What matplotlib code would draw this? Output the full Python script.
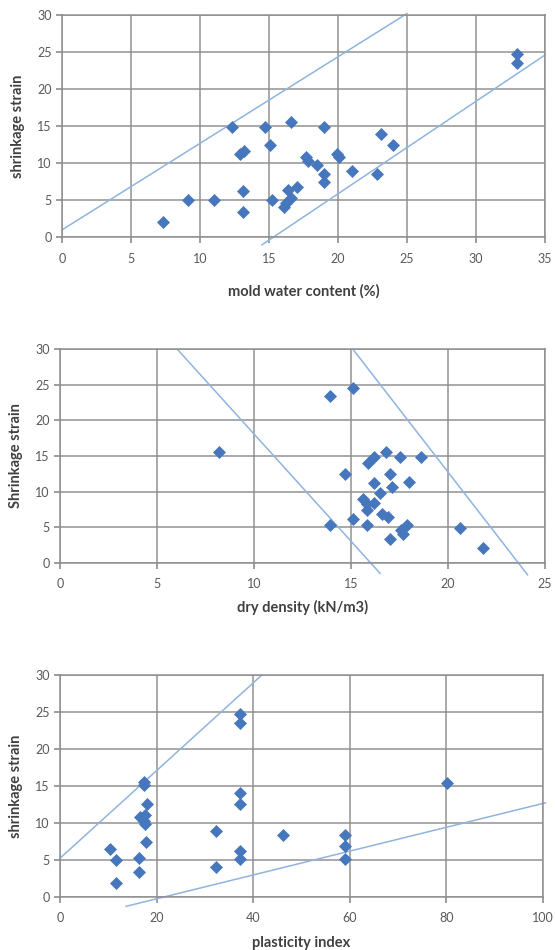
import matplotlib
matplotlib.use("Agg")
import matplotlib.pyplot as plt

plt.rcParams["font.family"] = ["Lato", "DejaVu Sans"]

# --- panel 1: mold water content ---
water = [7.3, 9.1, 11.0, 13.1, 13.1, 12.3, 12.9, 13.2, 14.7, 15.1, 15.2, 16.6,
         16.1, 16.2, 16.6, 16.4, 17.0, 17.7, 17.8, 18.5, 19.0, 19.0, 19.0, 19.9,
         20.1, 21.0, 22.8, 23.1, 24.0, 33.0, 33.0]
strain1 = [2.0, 5.0, 5.1, 6.2, 3.4, 14.9, 11.2, 11.6, 14.9, 12.5, 5.1, 15.5,
           4.1, 4.6, 5.3, 6.4, 6.8, 10.9, 10.3, 9.8, 14.9, 8.5, 7.4, 11.2,
           10.9, 8.9, 8.5, 13.9, 12.5, 24.7, 23.5]
bound1_up = ([0, 25], [1.0, 30.2])
bound1_lo = ([14.5, 35], [-1.0, 24.6])

# --- panel 2: dry density ---
density = [13.9, 15.1, 8.2, 13.9, 14.7, 15.1, 15.8, 15.9, 16.2, 16.8, 17.5, 18.6,
           17.0, 16.2, 17.1, 18.0, 16.5, 15.6, 15.8, 16.2, 15.8, 16.6, 16.9, 17.9,
           17.6, 17.7, 17.0, 20.6, 21.8]
strain2 = [23.4, 24.5, 15.5, 5.3, 12.4, 6.1, 5.3, 14.0, 14.8, 15.5, 14.9, 14.9,
           12.5, 11.2, 10.7, 11.3, 9.8, 8.9, 8.3, 8.4, 7.4, 6.8, 6.4, 5.3,
           4.6, 4.1, 3.4, 4.9, 2.1]
bound2_a = ([6.05, 16.5], [30, -1.5])
bound2_b = ([15.1, 24.1], [30, -1.7])

# --- panel 3: plasticity index ---
pi = [10.4, 11.6, 11.6, 16.4, 16.4, 17.3, 17.3, 18.0, 16.6, 17.6, 17.3, 17.6,
      17.8, 37.3, 37.3, 37.3, 37.3, 32.3, 32.3, 37.3, 37.3, 46.1, 59.0, 59.0,
      59.0, 80.2]
strain3 = [6.5, 5.0, 1.8, 5.3, 3.3, 15.5, 15.1, 12.6, 10.8, 11.0, 10.3, 9.8,
           7.4, 24.7, 23.5, 14.1, 12.5, 8.9, 4.0, 6.2, 5.1, 8.4, 8.4, 6.8,
           5.1, 15.4]
bound3_up = ([0, 41.8], [5.2, 30])
bound3_lo = ([13.7, 100.5], [-1.3, 12.7])

W, H = 555, 950
fig = plt.figure(figsize=(W / 100, H / 100), dpi=100)

panels = [
    dict(box=(62, 15, 545, 237.3), x=water, y=strain1, lines=[bound1_up, bound1_lo],
         xmax=35, xstep=5, xlabel="mold water content (%)", ylabel="shrinkage strain",
         xpad=14),
    dict(box=(60, 349.3, 545, 562.7), x=density, y=strain2, lines=[bound2_a, bound2_b],
         xmax=25, xstep=5, xlabel="dry density (kN/m3)", ylabel="Shrinkage strain",
         xpad=7.5),
    dict(box=(60, 675, 543, 896.7), x=pi, y=strain3, lines=[bound3_up, bound3_lo],
         xmax=100, xstep=20, xlabel="plasticity index", ylabel="shrinkage strain",
         xpad=8.5),
]

grid_c = "#8c8c8c"
for p in panels:
    l, t, r, b = p["box"]
    ax = fig.add_axes([l / W, 1 - b / H, (r - l) / W, (b - t) / H])
    ax.set_xlim(0, p["xmax"])
    ax.set_ylim(0, 30)
    ax.set_xticks(range(0, p["xmax"] + 1, p["xstep"]))
    ax.set_yticks(range(0, 31, 5))
    ax.grid(True, color=grid_c, linewidth=1.3, alpha=0.8)
    ax.set_axisbelow(True)
    for s in ax.spines.values():
        s.set_color(grid_c)
        s.set_linewidth(1.3)
        s.set_alpha(0.8)
    ax.tick_params(colors=grid_c, labelcolor="#595959", labelsize=9, length=4, width=1.2)
    ax.tick_params(axis="x", pad=7)
    for xs, ys in p["lines"]:
        ax.plot(xs, ys, color="#8fb4de", linewidth=1.1, clip_on=False, zorder=2)
    ax.scatter(p["x"], p["y"], marker="D", s=44, color="#4677bd", zorder=3,
               linewidths=0)
    ax.set_xlabel(p["xlabel"], fontsize=10.5, fontweight="bold", color="#404040",
                  labelpad=p["xpad"])
    ax.set_ylabel(p["ylabel"], fontsize=10.5, fontweight="bold", color="#404040",
                  labelpad=9)

fig.savefig("out.png", dpi=100, facecolor="white")
